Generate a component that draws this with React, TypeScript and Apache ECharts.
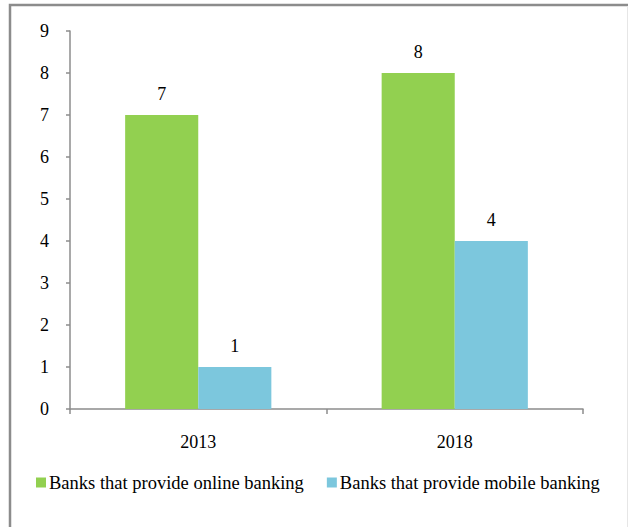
import React, { useEffect, useRef } from "react";
import * as echarts from "echarts";

const categories = ["2013", "2018"];
const onlineBanking = [7, 8];
const mobileBanking = [1, 4];
const seriesNames = ["Banks that provide online banking", "Banks that provide mobile banking"];

export default function App() {
  const ref = useRef<HTMLDivElement>(null);
  useEffect(() => {
    const chart = echarts.init(ref.current!, null, { renderer: "svg" });
    const font = "Liberation Serif";
    chart.setOption({
      animation: false,
      textStyle: { fontFamily: font },
      graphic: [
        {
          type: "rect",
          shape: { x: 10, y: 5, width: 700, height: 600 },
          style: { fill: "none", stroke: "#8c8c8c", lineWidth: 2.5 },
          silent: true,
        },
        {
          type: "line",
          shape: { x1: 627.5, y1: 6, x2: 627.5, y2: 527 },
          style: { stroke: "#e6e6e6", lineWidth: 1 },
          silent: true,
        },
      ],
      grid: { left: 70, right: 45, top: 31, bottom: 118 },
      legend: {
        bottom: 30,
        left: 31,
        itemWidth: 10,
        itemHeight: 10,
        itemGap: 23,
        icon: "rect",
        textStyle: { fontFamily: font, fontSize: 18.5, color: "#000", padding: [0, 0, 0, -2] },
        data: seriesNames,
      },
      xAxis: {
        type: "category",
        data: categories,
        axisLine: { lineStyle: { color: "#8c8c8c", width: 1.5 } },
        axisTick: { show: true, length: 5, lineStyle: { color: "#8c8c8c", width: 1.5 } },
        axisLabel: { fontFamily: font, fontSize: 18, color: "#000", margin: 24 },
      },
      yAxis: {
        type: "value",
        min: 0,
        max: 9,
        interval: 1,
        splitLine: { show: false },
        axisLine: { show: true, lineStyle: { color: "#8c8c8c", width: 1.5 } },
        axisTick: { show: true, length: 4, lineStyle: { color: "#8c8c8c", width: 1.5 } },
        axisLabel: { fontFamily: font, fontSize: 18, color: "#000", margin: 21 },
      },
      series: [
        {
          name: seriesNames[0],
          type: "bar",
          data: onlineBanking,
          itemStyle: { color: "#92d050" },
          barGap: "0%",
          barCategoryGap: "43%",
          label: { show: true, position: "top", distance: 12, fontFamily: font, fontSize: 18, color: "#000" },
        },
        {
          name: seriesNames[1],
          type: "bar",
          data: mobileBanking,
          itemStyle: { color: "#7cc7dd" },
          barGap: "0%",
          barCategoryGap: "43%",
          label: { show: true, position: "top", distance: 12, fontFamily: font, fontSize: 18, color: "#000" },
        },
      ],
    });
    return () => chart.dispose();
  }, []);
  return <div ref={ref} style={{ position: "fixed", left: 0, top: 0, width: 628, height: 527, background: "#fff" }} />;
}
